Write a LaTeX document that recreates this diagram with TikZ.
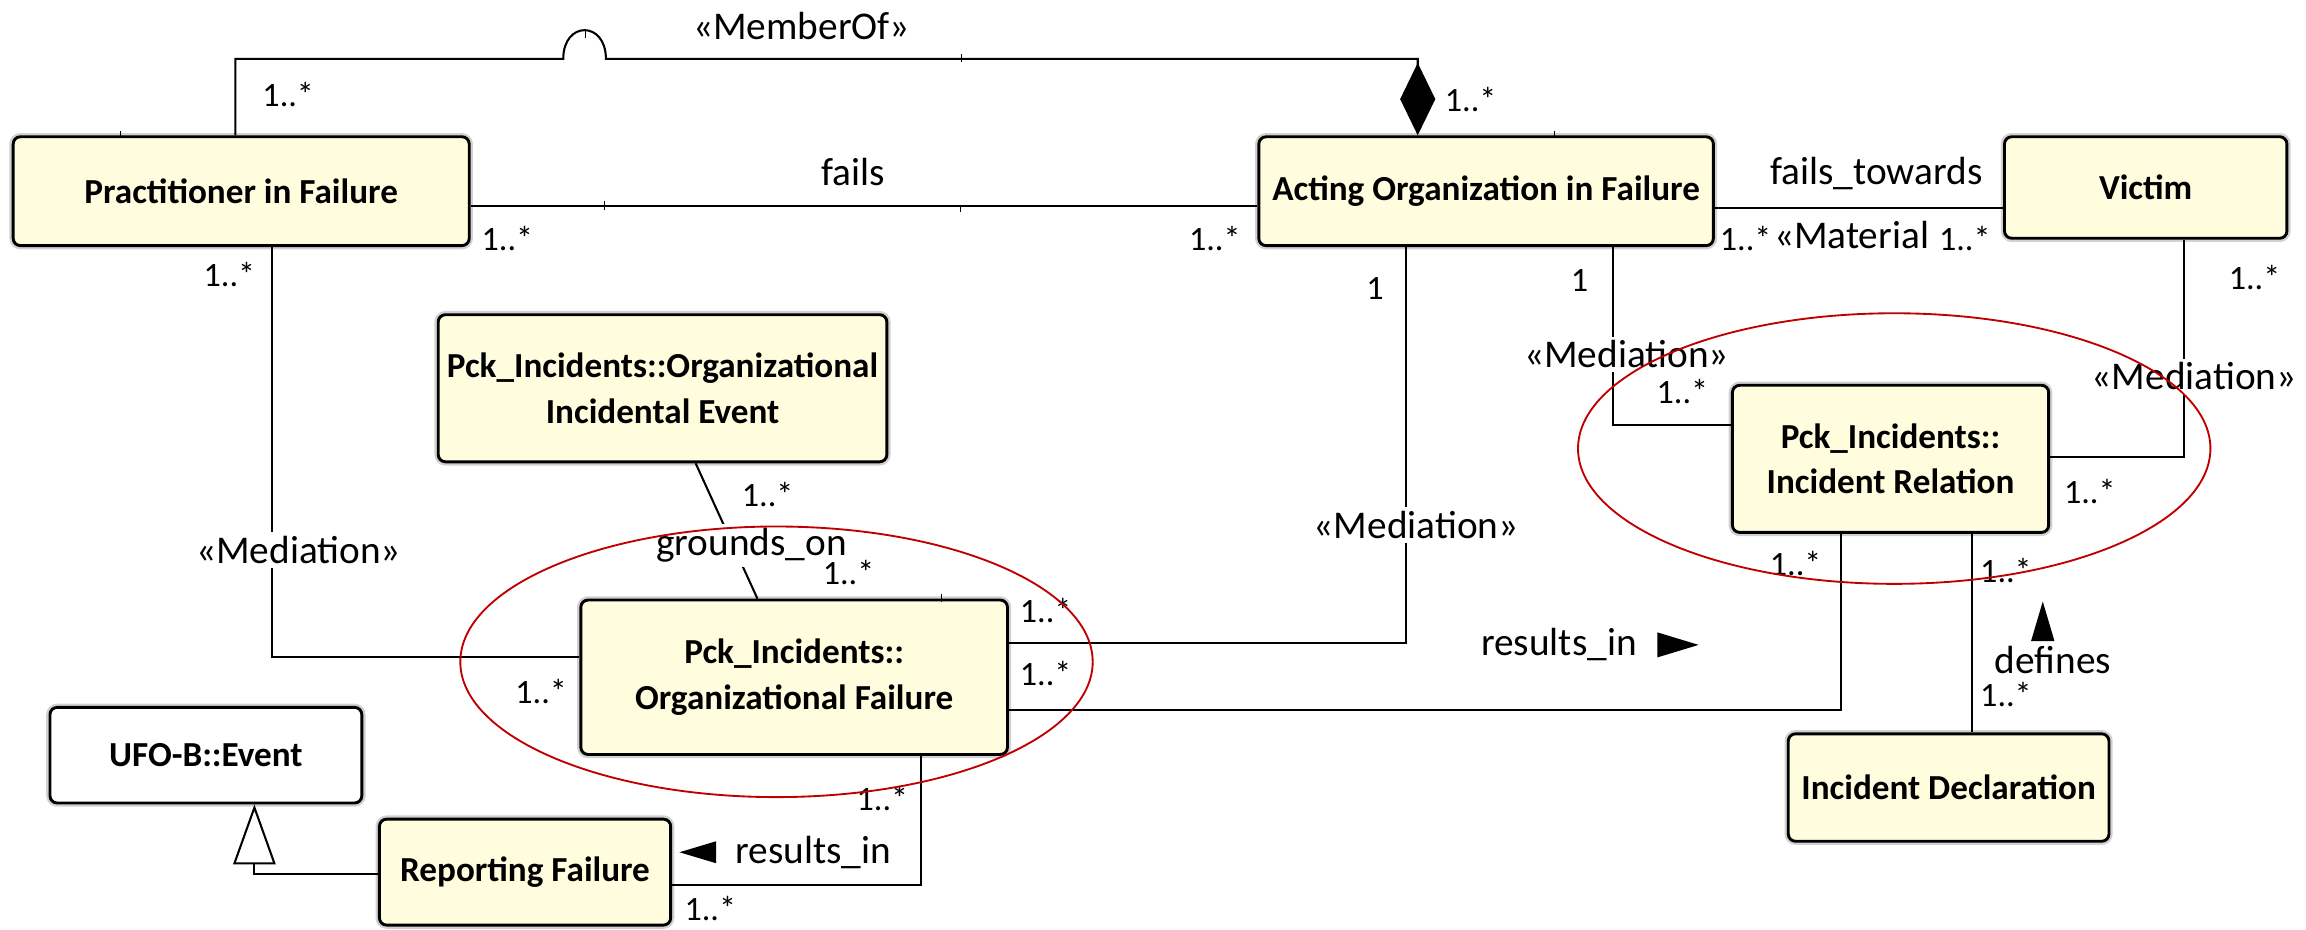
\documentclass[tikz,border=0pt]{standalone}
\usepackage{fontspec}
\setmainfont{Carlito}
\usetikzlibrary{arrows.meta}
\definecolor{boxfill}{RGB}{255,253,222}
\definecolor{ringred}{RGB}{192,0,0}

\begin{document}
\begin{tikzpicture}[x=0.025cm, y=-0.025cm,
  box/.style={draw=black, line width=1.4pt, rounded corners=3.5pt, fill=boxfill,
    align=center, inner sep=0pt,
    preaction={draw=black!18, line width=3.6pt},
    font=\bfseries\fontsize{17}{22}\selectfont},
  plainbox/.style={box, fill=white},
  conn/.style={draw=black, line width=1pt},
  tick/.style={draw=black, line width=0.6pt},
  lbl/.style={inner sep=1pt, font=\fontsize{19}{23}\selectfont},
  blbl/.style={lbl, fill=white, inner sep=2pt},
  mult/.style={inner sep=0pt, font=\fontsize{16.5}{20}\selectfont},
  ring/.style={draw=ringred, line width=0.9pt},
  dirtip/.style={fill=black}
]
\useasboundingbox (0,0) rectangle (1568,632);

% classes
\node[box, minimum width=7.75cm,  minimum height=1.85cm]  (pr)  at (164,130)    {Practitioner in Failure};
\node[box, minimum width=7.725cm, minimum height=1.85cm]  (ao)  at (1010.5,130) {Acting Organization in Failure};
\node[box, minimum width=4.8cm,   minimum height=1.725cm] (vi)  at (1459,127.5) {Victim};
\node[box, minimum width=7.625cm, minimum height=2.5cm]   (oie) at (450.5,264)  {Pck\_Incidents::Organizational\\Incidental Event};
\node[box, minimum width=7.25cm,  minimum height=2.625cm] (of)  at (540,460.5)  {Pck\_Incidents::\\Organizational Failure};
\node[box, minimum width=4.95cm,  minimum height=1.8cm]   (rf)  at (357,593)    {Reporting Failure};
\node[plainbox, minimum width=5.3cm, minimum height=1.625cm] (ev) at (140,513.5) {UFO-B::Event};
\node[box, minimum width=5.375cm, minimum height=2.5cm]   (ir)  at (1285.5,312) {Pck\_Incidents::\\Incident Relation};
\node[box, minimum width=5.45cm,  minimum height=1.825cm] (id)  at (1325,535.5) {Incident Declaration};

% MemberOf composition, hopping over a crossing
\coordinate (mA) at (160,40);
\coordinate (hL) at (383,40);
\coordinate (hR) at (412,40);
\coordinate (mB) at (964,40);
\draw[conn, -{Diamond[length=35pt, width=17pt]}]
  (pr.north -| mA) -- (mA) -- (hL) .. controls (383,14) and (412,14) .. (hR) -- (mB) -- (ao.north -| mB);
\node[lbl] (tMem) at (545,18) {«MemberOf»};
\node[mult] (mMem1) at (196,64) {1..*};
\node[mult] (mMem2) at (1000,68) {1..*};

% fails
\coordinate (fy) at (0,140);
\draw[conn] (pr.east |- fy) -- (ao.west |- fy);
\node[lbl] (tFails) at (580,117) {fails};
\node[mult] (mF1) at (345,162) {1..*};
\node[mult] (mF2) at (826,162) {1..*};

% fails_towards
\coordinate (ty) at (0,141.5);
\draw[conn] (ao.east |- ty) -- (vi.west |- ty);
\node[lbl] (tTow) at (1276,118) {fails\_towards};
\node[mult] (mT1) at (1187,162) {1..*};
\node[lbl] (tMat) at (1259,160) {«Material};
\node[mult] (mT2) at (1336,162) {1..*};

% Mediation: practitioner -- organizational failure
\coordinate (m1) at (185,447);
\draw[conn] (pr.south -| m1) -- (m1) -- (of.west |- m1);
\node[blbl] (tMed1) at (203,374) {«Mediation»};
\node[mult] (mM1a) at (156,187) {1..*};
\node[mult] (mM1b) at (368,470) {1..*};

% grounds_on
\coordinate (g1) at (473,0);
\coordinate (g2) at (515,0);
\draw[conn] (oie.south -| g1) -- (of.north -| g2);
\node[blbl] (tGr) at (511,371) {grounds\_on};
\node[mult] (mG1) at (522,336) {1..*};
\node[mult] (mG2) at (577,389) {1..*};

% Mediation: acting organization -- organizational failure
\coordinate (m2) at (956,437);
\draw[conn] (ao.south -| m2) -- (m2) -- (of.east |- m2);
\node[blbl] (tMed2) at (963,357) {«Mediation»};
\node[mult] (mM2a) at (935,196) {1};
\node[mult] (mM2b) at (711,415) {1..*};

% results_in: organizational failure -- incident relation
\coordinate (r1) at (1252,483);
\draw[conn] (of.east |- r1) -- (r1) -- (ir.south -| r1);
\node[lbl] (tRes1) at (1060,438) {results\_in};
\fill[dirtip] (1127,430) -- (1155,438.5) -- (1127,447) -- cycle;
\node[mult] (mR1a) at (711,458) {1..*};
\node[mult] (mR1b) at (1221,383) {1..*};

% Mediation: acting organization -- incident relation
\coordinate (m3) at (1097,289);
\draw[conn] (ao.south -| m3) -- (m3) -- (ir.west |- m3);
\node[blbl] (tMed3) at (1106,241) {«Mediation»};
\node[mult] (mM3a) at (1074,191) {1};
\node[mult] (mM3b) at (1144,266) {1..*};

% Mediation: victim -- incident relation
\coordinate (m4) at (1485,311);
\draw[conn] (vi.south -| m4) -- (m4) -- (ir.east |- m4);
\node[blbl] (tMed4) at (1492,256) {«Mediation»};
\node[mult] (mM4a) at (1533,189) {1..*};
\node[mult] (mM4b) at (1421,334) {1..*};

% defines
\coordinate (d1) at (1341,0);
\draw[conn] (ir.south -| d1) -- (id.north -| d1);
\node[lbl] (tDef) at (1396,449) {defines};
\fill[dirtip] (1381,436) -- (1389,409) -- (1397,436) -- cycle;
\node[mult] (mD1) at (1364,388) {1..*};
\node[mult] (mD2) at (1364,472) {1..*};

% results_in: organizational failure -- reporting failure
\coordinate (r2) at (626,602);
\draw[conn] (of.south -| r2) -- (r2) -- (rf.east |- r2);
\fill[dirtip] (487,572) -- (462,579.5) -- (487,587) -- cycle;
\node[lbl] (tRes2) at (553,580) {results\_in};
\node[mult] (mR2a) at (600,543) {1..*};
\node[mult] (mR2b) at (483,618) {1..*};

% generalization
\coordinate (e1) at (173,594);
\draw[conn, -{Triangle[length=29pt, width=20.5pt, fill=white]}] (rf.west |- e1) -- (e1) -- (ev.south -| e1);

% small midpoint ticks on the connectors
\draw[tick] (398,20) -- (398,26);
\draw[tick] (654,37) -- (654,42);
\draw[tick] (411,137) -- (411,143);
\draw[tick] (653,140) -- (653,144);
\draw[tick] (82,89) -- (82,93);
\draw[tick] (1057,89) -- (1057,93);
\draw[tick] (640,404) -- (640,409);

% highlight rings
\draw[ring] (528,450) ellipse [x radius=215, y radius=92];
\draw[ring] (1288,305) ellipse [x radius=215, y radius=92];
\end{tikzpicture}
\end{document}
